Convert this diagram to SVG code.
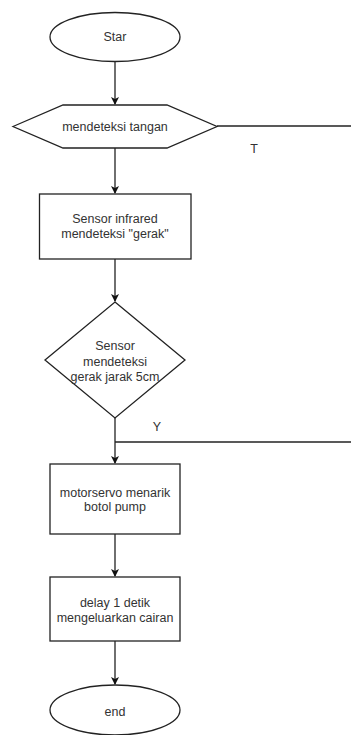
<svg xmlns="http://www.w3.org/2000/svg" width="351" height="735" viewBox="0 0 351 735">
<style>
.s{fill:#fff;stroke:#222;stroke-width:1.3}
.c{fill:none;stroke:#222;stroke-width:1.3}
text{font-family:"Liberation Sans",Arial,sans-serif;font-size:12.5px;fill:#333;text-anchor:middle}
</style>
<defs>
<marker id="a" markerWidth="8" markerHeight="8" refX="7" refY="4" orient="auto" markerUnits="userSpaceOnUse">
<path d="M0,0 L8,4 L0,8 L2,4 Z" fill="#111"/>
</marker>
</defs>
<rect width="351" height="735" fill="#fff"/>
<g id="connectors">
<line class="c" x1="115" y1="62" x2="115" y2="104" marker-end="url(#a)"/>
<line class="c" x1="115" y1="148" x2="115" y2="193" marker-end="url(#a)"/>
<line class="c" x1="217" y1="126" x2="351" y2="126"/>
<text x="254" y="153">T</text>
<line class="c" x1="115" y1="259" x2="115" y2="301" marker-end="url(#a)"/>
<line class="c" x1="115" y1="418" x2="115" y2="463" marker-end="url(#a)"/>
<line class="c" x1="115" y1="442" x2="351" y2="442"/>
<text x="157" y="431">Y</text>
<line class="c" x1="115" y1="534" x2="115" y2="576" marker-end="url(#a)"/>
<line class="c" x1="115" y1="641" x2="115" y2="684" marker-end="url(#a)"/>
</g>
<g id="start">
<ellipse class="s" cx="115" cy="37" rx="65" ry="24.5"/>
<text x="115" y="41">Star</text>
</g>
<g id="detect-hand">
<polygon class="s" points="13,126.5 63,105 167,105 217,126.5 167,148 63,148"/>
<text x="115" y="131">mendeteksi tangan</text>
</g>
<g id="sensor-infrared">
<rect class="s" x="39.5" y="194" width="151.5" height="65"/>
<text x="115" y="223">Sensor infrared</text>
<text x="115" y="238">mendeteksi "gerak"</text>
</g>
<g id="decision">
<polygon class="s" points="115,302 185,360 115,418 45,360"/>
<text x="115" y="350">Sensor</text>
<text x="115" y="366">mendeteksi</text>
<text x="115" y="381">gerak jarak 5cm</text>
</g>
<g id="motorservo">
<rect class="s" x="50" y="464" width="130" height="70"/>
<text x="115" y="497">motorservo menarik</text>
<text x="115" y="511">botol pump</text>
</g>
<g id="delay">
<rect class="s" x="50" y="577" width="130" height="64"/>
<text x="115" y="607">delay 1 detik</text>
<text x="115" y="622">mengeluarkan cairan</text>
</g>
<g id="end">
<ellipse class="s" cx="115" cy="710" rx="65" ry="25"/>
<text x="115" y="716">end</text>
</g>
</svg>
